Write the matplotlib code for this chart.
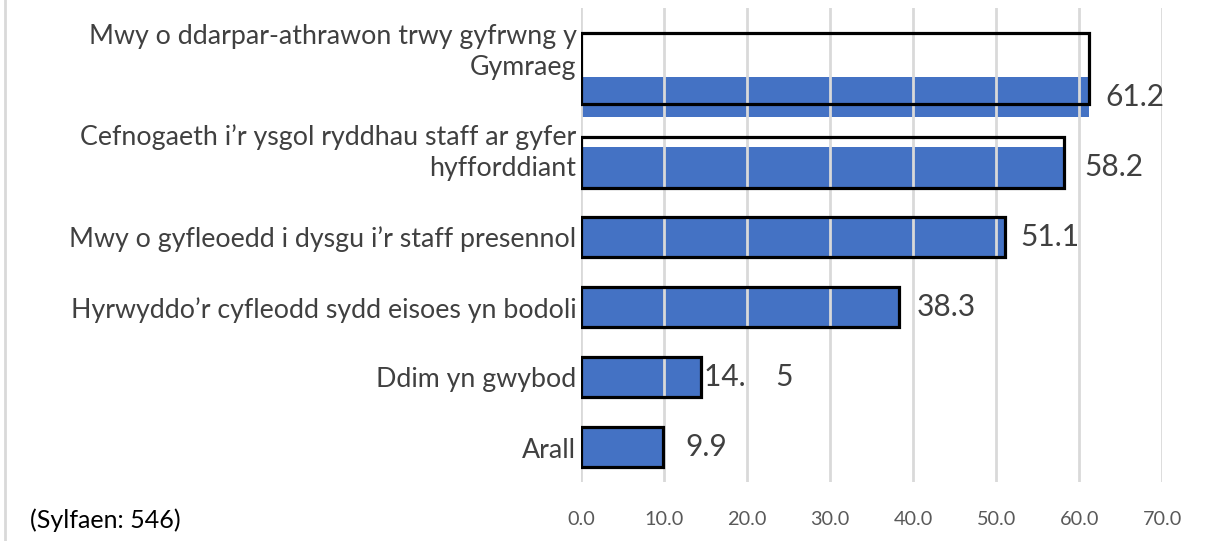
import matplotlib.pyplot as plt
from matplotlib.lines import Line2D

# Data
categories = [
    "Mwy o ddarpar-athrawon trwy gyfrwng y\nGymraeg",
    "Cefnogaeth i\u2019r ysgol ryddhau staff ar gyfer\nhyfforddiant",
    "Mwy o gyfleoedd i dysgu i\u2019r staff presennol",
    "Hyrwyddo\u2019r cyfleodd sydd eisoes yn bodoli",
    "Ddim yn gwybod",
    "Arall",
]
values = [61.2, 58.2, 51.1, 38.3, 14.5, 9.9]
value_labels = ["61.2", "58.2", "51.1", "38.3", "14.    5", "9.9"]
xticks = [0, 10, 20, 30, 40, 50, 60, 70]
base_note = "(Sylfaen: 546)"

# styling / layout tweaks (outline boxes sit slightly off the blue bars in the original)
outline_shift = [-0.41, -0.07, 0, 0, 0, 0]
outline_height = [1.01, 0.73, 0.58, 0.58, 0.58, 0.58]
label_shift = [-0.64, -0.2, 0.03, 0.04, 0.04, 0.05]
label_pad = [16, 20, 15, 18, 3, 22]

plt.rcParams['font.family'] = ['Lato', 'DejaVu Sans']

fig = plt.figure(figsize=(12.08, 5.41), dpi=100)
ax = fig.add_axes([0.481, 0.109, 0.481, 0.876])

ypos = list(range(len(categories)))
blue = "#4472C4"

ax.barh(ypos, values, height=0.57, color=blue, zorder=2)
ax.barh([y + s for y, s in zip(ypos, outline_shift)], values, height=outline_height,
        fill=False, edgecolor="black", linewidth=2.3, zorder=4)

for y, v, lab, pad in zip(ypos, values, value_labels, label_pad):
    ax.annotate(lab, (v, y), xytext=(pad * 0.72, 0), textcoords="offset points",
                ha="left", va="center", fontsize=21.5, color="#404040")

for y, cat, s in zip(ypos, categories, label_shift):
    ax.text(-0.008, y + s, cat, transform=ax.get_yaxis_transform(),
            ha="right", va="center", fontsize=19.3, color="#404040", linespacing=1.3)

ax.set_xlim(0, 70)
ax.set_ylim(5.5, -1.27)
ax.set_xticks(xticks)
ax.set_xticklabels([f"{t:.1f}" for t in xticks], fontsize=14.3, color="#595959")
ax.set_yticks([])
ax.tick_params(axis="x", length=0, pad=21)
ax.grid(axis="x", color="#d9d9d9", linewidth=2, zorder=3)
ax.set_axisbelow(False)
for sp in ax.spines.values():
    sp.set_visible(False)

fig.text(30 / 1208, 1 - 520 / 541, base_note, fontsize=18, color="black", va="center", ha="left")
fig.add_artist(Line2D([5 / 1208, 5 / 1208], [0, 1], color="#d9d9d9", linewidth=2))

fig.savefig("out.png", dpi=100)
